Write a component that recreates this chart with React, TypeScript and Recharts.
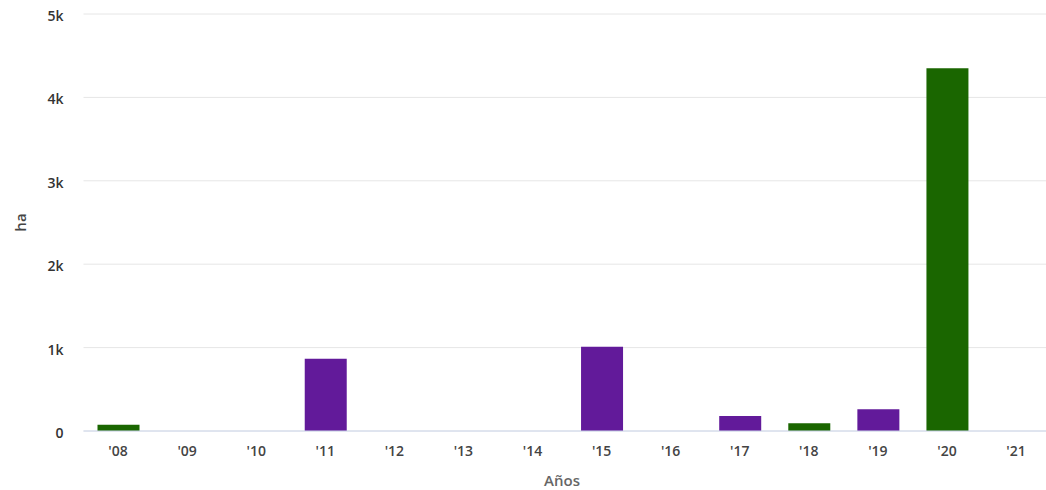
import React from 'react';
import { BarChart, Bar, XAxis, YAxis, CartesianGrid, Cell } from 'recharts';

const years = ["'08", "'09", "'10", "'11", "'12", "'13", "'14", "'15", "'16", "'17", "'18", "'19", "'20", "'21"];
const hectares = [75, 0, 0, 865, 0, 0, 0, 1010, 0, 180, 92, 260, 4350, 0];
const barColors = ['#1a6600', '#1a6600', '#1a6600', '#621a9a', '#621a9a', '#621a9a', '#621a9a', '#621a9a', '#621a9a', '#621a9a', '#1a6600', '#621a9a', '#1a6600', '#1a6600'];
const yTicks = [0, 1000, 2000, 3000, 4000, 5000];

const data = years.map((y, i) => ({ year: y, value: hectares[i] }));

const fmt = (v: number) => (v === 0 ? '0' : `${v / 1000}k`);

const font = '"Open Sans", "Noto Sans", sans-serif';

export default function App() {
  return (
    <div style={{ position: 'absolute', left: 0, top: 0, width: 1046, height: 490, overflow: 'hidden', background: '#fff' }}>
      <BarChart
        width={1060}
        height={490}
        data={data}
        margin={{ top: 14, right: 9.4, bottom: 0, left: 0 }}
        barSize={42}
      >
        <CartesianGrid vertical={false} stroke="#e6e6e6" />
        <XAxis
          dataKey="year"
          height={59}
          tickLine={false}
          tickSize={0}
          tickMargin={15}
          axisLine={{ stroke: '#ccd6eb' }}
          tick={{ fill: '#444', fontSize: 14, fontWeight: 600, fontFamily: font }}
          interval={0}
          label={{ value: 'Años', position: 'insideBottom', offset: 4, dx: -5, fill: '#666', fontSize: 15, fontWeight: 600, fontFamily: font }}
        />
        <YAxis
          width={83.5}
          domain={[0, 5000]}
          ticks={yTicks}
          tickFormatter={fmt}
          tickLine={false}
          axisLine={false}
          tickSize={0}
          tickMargin={20}
          tick={{ fill: '#333', fontSize: 14, fontWeight: 600, fontFamily: font, dy: 2 }}
          label={(props: any) => {
            const vb = props.viewBox || { x: 0, y: 14, width: 83.5, height: 417 };
            const cx = vb.x + 20;
            const cy = vb.y + vb.height / 2;
            return (
              <text
                x={cx}
                y={cy}
                transform={`rotate(-90, ${cx}, ${cy})`}
                textAnchor="middle"
                dominantBaseline="central"
                fill="#444"
                fontSize={15}
                fontWeight={600}
                fontFamily={font}
              >
                ha
              </text>
            );
          }}
        />
        <Bar dataKey="value" isAnimationActive={false}>
          {data.map((d, i) => (
            <Cell key={d.year} fill={barColors[i]} />
          ))}
        </Bar>
      </BarChart>
    </div>
  );
}
